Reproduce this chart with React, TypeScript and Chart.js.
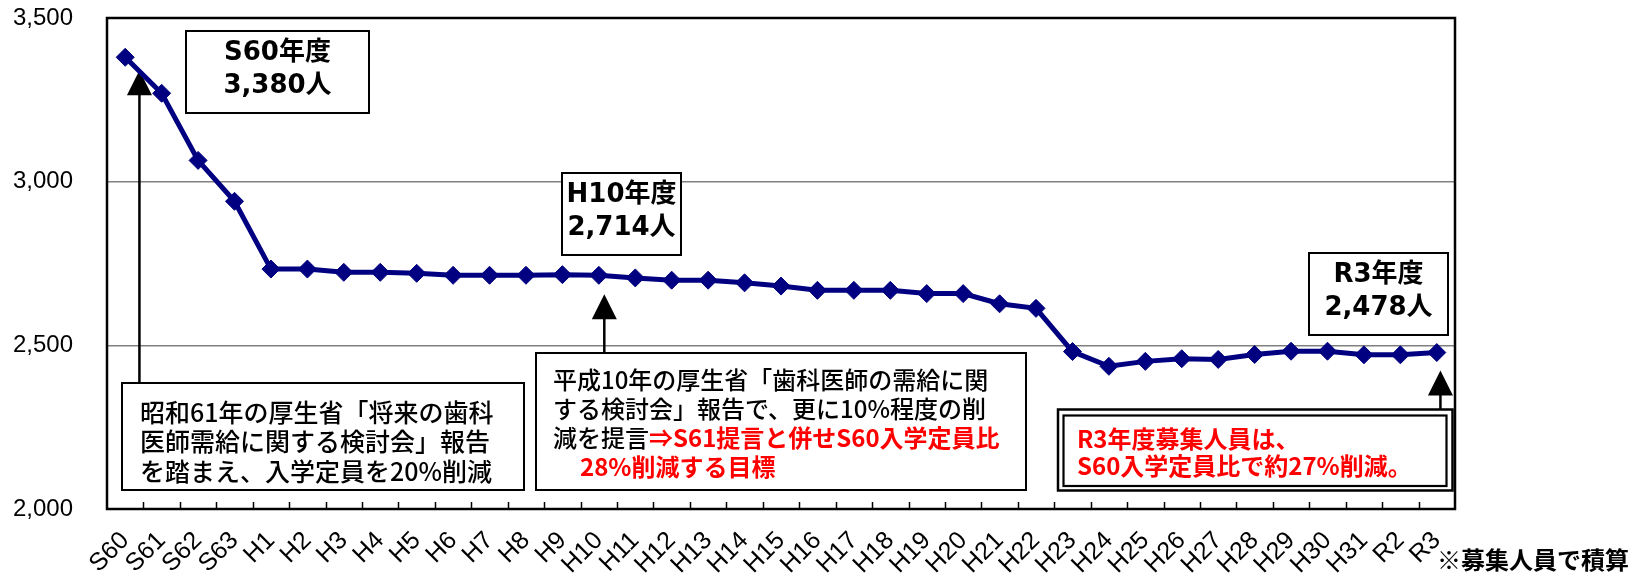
import React, { useEffect, useRef } from 'react';
import { Chart, registerables } from 'chart.js';

Chart.register(...registerables);

// Fiscal years (Showa 60 → Reiwa 3)
const years = [
  'S60', 'S61', 'S62', 'S63',
  'H1', 'H2', 'H3', 'H4', 'H5', 'H6', 'H7', 'H8', 'H9', 'H10',
  'H11', 'H12', 'H13', 'H14', 'H15', 'H16', 'H17', 'H18', 'H19', 'H20',
  'H21', 'H22', 'H23', 'H24', 'H25', 'H26', 'H27', 'H28', 'H29', 'H30',
  'H31', 'R2', 'R3',
];

// Dental school admission capacity / recruitment (persons)
const admissions = [
  3380, 3270, 3065, 2940,
  2733, 2733, 2723, 2723, 2720, 2714, 2714, 2714, 2716, 2714,
  2706, 2699, 2699, 2691, 2681, 2668, 2668, 2668, 2658, 2658,
  2627, 2613, 2481, 2436, 2451, 2459, 2457, 2472, 2482, 2482,
  2471, 2471, 2478,
];

const yMin = 2000;
const yMax = 3500;
const yStep = 500;
const yGridValues = [2500, 3000];

const JP = '"Noto Sans CJK JP", "Noto Sans", sans-serif';
const NUM = '"DejaVu Sans", "Noto Sans CJK JP", sans-serif';
const LATIN = '"Liberation Sans", Arial, sans-serif';

const fmt = (v: number) => v.toLocaleString('en-US');

type Seg = { text: string; color?: string; bold?: boolean };

function drawSegs(ctx: CanvasRenderingContext2D, segs: Seg[], x: number, y: number, size: number) {
  let cx = x;
  for (const s of segs) {
    ctx.font = `${s.bold ? 'bold' : '500'} ${size}px ${JP}`;
    ctx.fillStyle = s.color || '#000';
    ctx.textAlign = 'left';
    ctx.textBaseline = 'middle';
    ctx.fillText(s.text, cx, y);
    cx += ctx.measureText(s.text).width;
  }
}

function box(ctx: CanvasRenderingContext2D, l: number, t: number, r: number, b: number, lw = 2) {
  ctx.fillStyle = '#fff';
  ctx.fillRect(l, t, r - l, b - t);
  ctx.strokeStyle = '#000';
  ctx.lineWidth = lw;
  ctx.strokeRect(l, t, r - l, b - t);
}

function arrowUp(ctx: CanvasRenderingContext2D, x: number, tipY: number, tailY: number) {
  const head = 25;
  const half = 12.5;
  ctx.strokeStyle = '#000';
  ctx.lineWidth = 2.5;
  ctx.beginPath();
  ctx.moveTo(x, tailY);
  ctx.lineTo(x, tipY + head - 1);
  ctx.stroke();
  ctx.fillStyle = '#000';
  ctx.beginPath();
  ctx.moveTo(x, tipY);
  ctx.lineTo(x + half, tipY + head);
  ctx.lineTo(x - half, tipY + head);
  ctx.closePath();
  ctx.fill();
}

function labelBox(
  ctx: CanvasRenderingContext2D,
  l: number, t: number, r: number, b: number,
  lines: string[],
) {
  box(ctx, l, t, r, b, 2);
  ctx.font = `bold 26px ${NUM}`;
  ctx.fillStyle = '#000';
  ctx.textAlign = 'center';
  ctx.textBaseline = 'middle';
  const cx = (l + r) / 2;
  const h = b - t;
  ctx.fillText(lines[0], cx, t + h * 0.27);
  ctx.fillText(lines[1], cx, t + h * 0.67);
}

const notesPlugin = {
  id: 'notes',
  beforeDatasetsDraw(chart: any) {
    const { ctx, scales } = chart;
    const x = scales.x;
    const y = scales.y;
    const step = x.getPixelForValue(1) - x.getPixelForValue(0);
    const iS60 = 0;
    const iH10 = years.indexOf('H10');
    const iR3 = years.length - 1;
    ctx.save();

    // Arrows pointing at the three milestone years
    arrowUp(ctx, x.getPixelForValue(iS60) + 0.39 * step, y.getPixelForValue(admissions[iS60]) + 13, 384);
    arrowUp(ctx, x.getPixelForValue(iH10) + 0.15 * step, y.getPixelForValue(admissions[iH10]) + 19, 354);
    arrowUp(ctx, x.getPixelForValue(iR3) + 0.1 * step, y.getPixelForValue(admissions[iR3]) + 18, 410);

    // Milestone value boxes
    labelBox(ctx, 186, 31, 369, 113, [`${years[iS60]}年度`, `${fmt(admissions[iS60])}人`]);
    labelBox(ctx, 562, 173, 681, 255, [`${years[iH10]}年度`, `${fmt(admissions[iH10])}人`]);
    labelBox(ctx, 1309, 253, 1448, 335, [`${years[iR3]}年度`, `${fmt(admissions[iR3])}人`]);

    // Showa 61 report note
    box(ctx, 122, 383, 524, 490, 2);
    drawSegs(ctx, [{ text: '昭和61年の厚生省「将来の歯科' }], 140, 412, 25);
    drawSegs(ctx, [{ text: '医師需給に関する検討会」報告' }], 140, 441, 25);
    drawSegs(ctx, [{ text: 'を踏まえ、入学定員を20%削減' }], 140, 471, 25);

    // Heisei 10 report note
    box(ctx, 536, 353, 1026, 490, 2);
    drawSegs(ctx, [{ text: '平成10年の厚生省「歯科医師の需給に関' }], 553, 380, 24);
    drawSegs(ctx, [{ text: 'する検討会」報告で、更に10%程度の削' }], 553, 409, 24);
    drawSegs(ctx, [
      { text: '減を提言' },
      { text: '⇒S61提言と併せS60入学定員比', color: '#ff0000', bold: true },
    ], 553, 438, 24);
    drawSegs(ctx, [{ text: '28%削減する目標', color: '#ff0000', bold: true }], 580, 467, 24);

    // Reiwa 3 summary (double frame)
    ctx.fillStyle = '#fff';
    ctx.fillRect(1058, 410, 394, 80);
    ctx.strokeStyle = '#000';
    ctx.lineWidth = 2.5;
    ctx.strokeRect(1058, 409.5, 394.5, 81);
    ctx.lineWidth = 2.2;
    ctx.strokeRect(1063.5, 415.5, 383, 70.5);
    drawSegs(ctx, [{ text: 'R3年度募集人員は、', color: '#ff0000', bold: true }], 1077, 439, 24);
    drawSegs(ctx, [{ text: 'S60入学定員比で約27%削減。', color: '#ff0000', bold: true }], 1077, 466, 24);

    ctx.restore();
  },
  afterDraw(chart: any) {
    const { ctx, chartArea, scales } = chart;
    const x = scales.x;
    const { left, top, right, bottom } = chartArea;
    ctx.save();

    // Category boundary tick marks along the bottom edge
    ctx.strokeStyle = '#000';
    ctx.lineWidth = 1.5;
    ctx.beginPath();
    for (let i = 0; i < years.length - 1; i++) {
      const bx = Math.round((x.getPixelForValue(i) + x.getPixelForValue(i + 1)) / 2) + 0.5;
      ctx.moveTo(bx, bottom);
      ctx.lineTo(bx, bottom - 7);
    }
    ctx.stroke();

    // Plot frame
    ctx.lineWidth = 2.5;
    ctx.strokeRect(left, top, right - left, bottom - top);

    // Footnote
    ctx.font = `bold 24px ${JP}`;
    ctx.fillStyle = '#000';
    ctx.textAlign = 'left';
    ctx.textBaseline = 'middle';
    ctx.fillText('※募集人員で積算', 1437, 560);
    ctx.restore();
  },
};

export default function App() {
  const canvasRef = useRef<HTMLCanvasElement | null>(null);

  useEffect(() => {
    if (!canvasRef.current) return;
    const chart = new Chart(canvasRef.current, {
      type: 'line',
      data: {
        labels: years,
        datasets: [
          {
            data: admissions,
            borderColor: '#000080',
            backgroundColor: '#000080',
            borderWidth: 5,
            pointStyle: 'rectRot',
            pointRadius: 9,
            pointBackgroundColor: '#000080',
            pointBorderColor: '#000080',
            pointBorderWidth: 1,
            tension: 0,
          },
        ],
      },
      options: {
        responsive: false,
        animation: false,
        layout: { padding: { top: 18, right: 184, left: 0, bottom: 0 } },
        plugins: {
          legend: { display: false },
          tooltip: { enabled: false },
        },
        scales: {
          x: {
            type: 'category',
            offset: true,
            grid: { display: false, drawTicks: false, offset: true },
            border: { display: false },
            ticks: {
              autoSkip: false,
              maxRotation: 45,
              minRotation: 45,
              padding: 17,
              color: '#000',
              font: { family: LATIN, size: 25 },
            },
            afterFit: (scale: any) => {
              scale.height = 66;
            },
          },
          y: {
            min: yMin,
            max: yMax,
            grid: {
              drawTicks: false,
              lineWidth: 1.5,
              color: (c: any) => (yGridValues.includes(c.tick?.value) ? '#808080' : 'rgba(0,0,0,0)'),
            },
            border: { display: false },
            ticks: {
              stepSize: yStep,
              padding: 34,
              color: '#000',
              font: { family: LATIN, size: 24 },
              callback: (v: any) => fmt(Number(v)),
            },
            afterFit: (scale: any) => {
              scale.width = 107;
              scale.paddingTop = 0;
              scale.paddingBottom = 0;
            },
          },
        },
      },
      plugins: [notesPlugin],
    });
    return () => chart.destroy();
  }, []);

  return (
    <div style={{ position: 'fixed', left: 0, top: 0, width: 1639, height: 575, background: '#fff' }}>
      <canvas ref={canvasRef} width={1639} height={575} style={{ display: 'block' }} />
    </div>
  );
}
